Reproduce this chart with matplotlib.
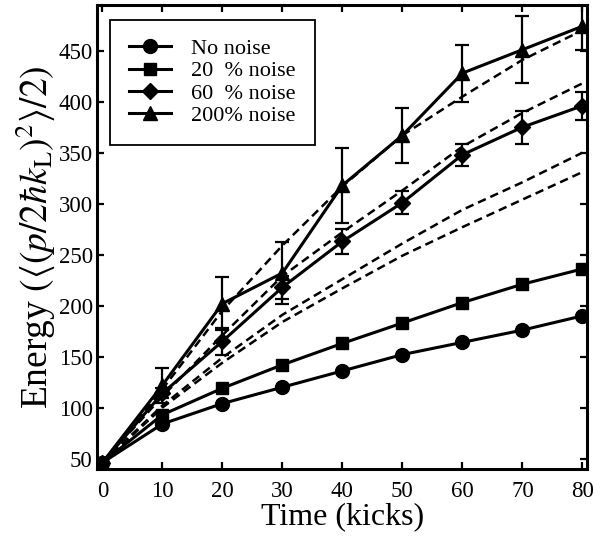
import matplotlib
matplotlib.use('Agg')
import matplotlib.pyplot as plt

plt.rcParams['font.family'] = 'serif'
plt.rcParams['font.serif'] = ['Liberation Serif', 'DejaVu Serif']
plt.rcParams['mathtext.fontset'] = 'stix'

# kicks
kicks = [0, 10, 20, 30, 40, 50, 60, 70, 80]

# measured energies
no_noise = [46, 84, 104, 120, 136, 152, 164, 176, 190]
noise_20 = [46, 93, 119, 142, 163, 183, 203, 221, 236]
noise_60 = [46, 114, 165, 218, 263, 301, 348, 375, 396]
noise_200 = [46, 122, 202, 232, 318, 367, 428, 451, 474]

# error bars
err_60 = [0, 5, 13, 11, 12, 11, 11, 16, 14]
err_200 = [0, 17, 26, 30, 37, 27, 28, 33, 23]

# dashed curves (theory)
theory_a = [46, 118, 195, 259, 317, 367, 405, 441, 470]
theory_b = [46, 111, 171, 229, 272, 313, 356, 389, 418]
theory_c = [46, 102, 149, 191, 226, 261, 294, 321, 350]
theory_d = [46, 100, 144, 184, 217, 249, 277, 304, 331]

labels = ['No noise', '20  % noise', '60  % noise', '200% noise']

fig = plt.figure(figsize=(6.06, 5.37), dpi=100)
ax = fig.add_axes([0.160, 0.127, 0.809, 0.864])

for th in [theory_a, theory_b, theory_c, theory_d]:
    ax.plot(kicks, th, color='black', lw=1.8, ls=(0, (3.4, 2.0)))

lw = 2.2
h1, = ax.plot(kicks, no_noise, 'k-o', lw=lw, ms=10, label=labels[0])
h2, = ax.plot(kicks, noise_20, 'k-s', lw=lw, ms=9, label=labels[1])
ax.errorbar(kicks, noise_60, yerr=err_60, fmt='none', ecolor='black',
            elinewidth=1.6, capsize=5, capthick=1.6)
h3, = ax.plot(kicks, noise_60, 'k-D', lw=lw, ms=8.5, label=labels[2])
ax.errorbar(kicks, noise_200, yerr=err_200, fmt='none', ecolor='black',
            elinewidth=1.6, capsize=5, capthick=1.6)
h4, = ax.plot(kicks, noise_200, 'k-^', lw=lw, ms=10.5, label=labels[3])

ax.set_xlim(-0.9, 80.8)
ax.set_ylim(40, 495)
ax.set_xticks(range(0, 81, 10))
ax.set_yticks(range(50, 451, 50))
ax.tick_params(direction='in', length=5, width=1.6, top=True, right=True,
               labelsize=16.5)
ax.tick_params(axis='x', pad=9)
ax.tick_params(axis='y', pad=3)
for s in ax.spines.values():
    s.set_linewidth(2.2)

ax.set_xlabel('Time (kicks)', fontsize=23, labelpad=0)
ax.set_ylabel(r'Energy $(\langle(p/2\hbar k_{\rm L})^2\rangle/2)$', fontsize=27,
              labelpad=1)

leg = ax.legend(handles=[h1, h2, h3, h4], loc='upper left',
                bbox_to_anchor=(0.027, 0.968), borderaxespad=0, fontsize=16,
                fancybox=False, framealpha=1, edgecolor='black',
                handlelength=1.9, handletextpad=0.9, labelspacing=0.08,
                borderpad=0.85)
leg.get_frame().set_linewidth(1.3)

plt.savefig('out.png', dpi=100)
